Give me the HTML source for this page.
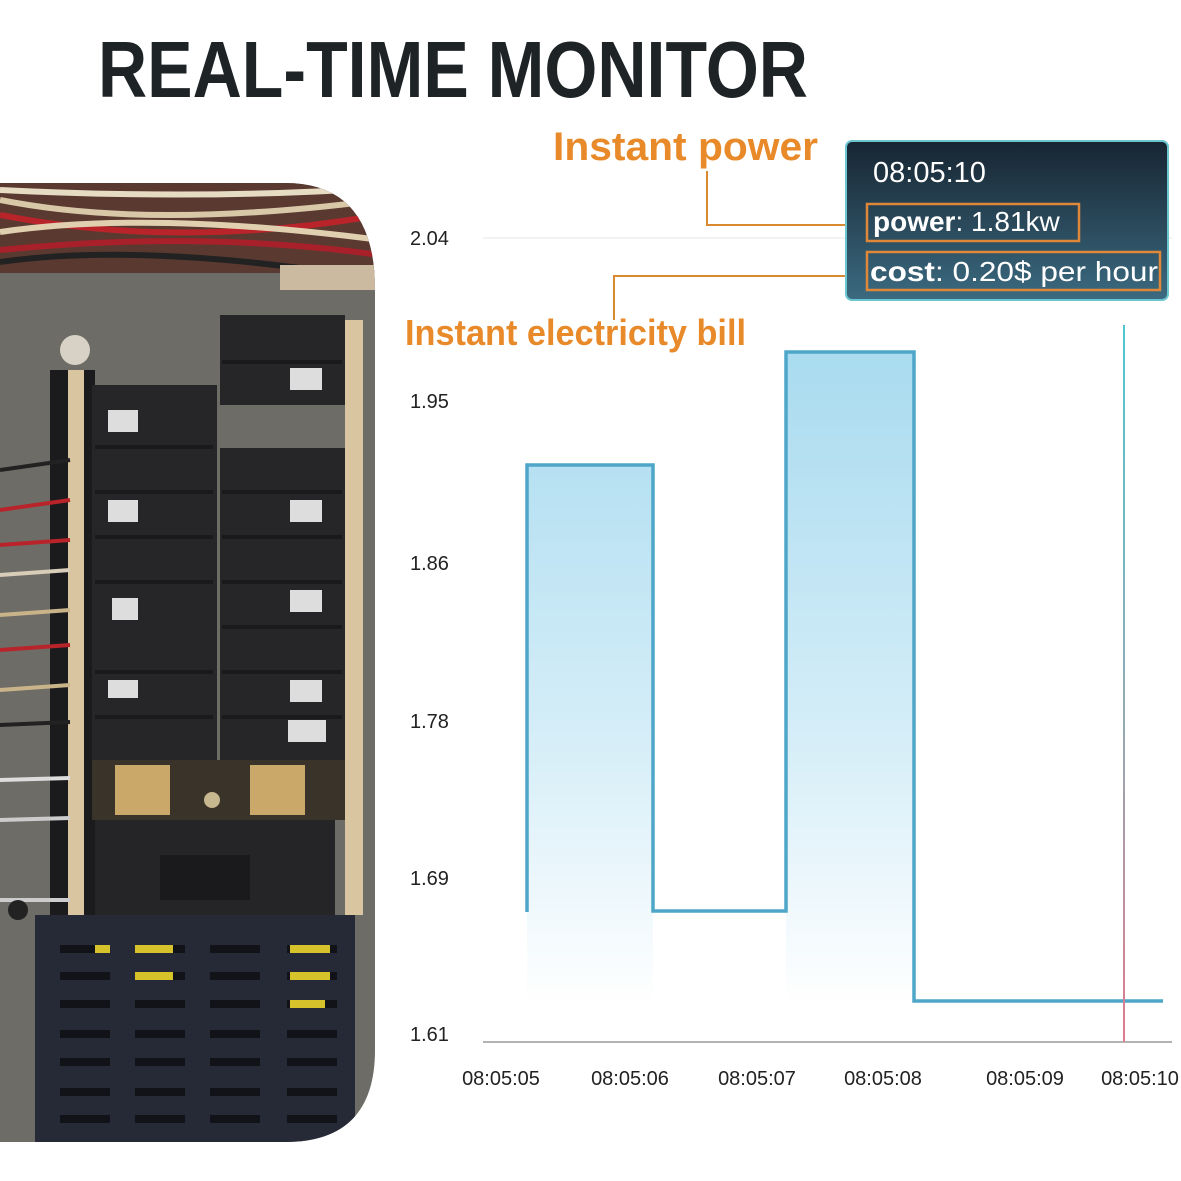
<!DOCTYPE html>
<html><head><meta charset="utf-8"><style>
html,body{margin:0;padding:0;background:#fff;width:1181px;height:1181px;overflow:hidden}
svg{display:block}
</style></head><body>
<svg width="1181" height="1181" viewBox="0 0 1181 1181" xmlns="http://www.w3.org/2000/svg">
<defs>
<linearGradient id="fill" gradientUnits="userSpaceOnUse" x1="0" y1="352" x2="0" y2="1005">
<stop offset="0" stop-color="#a9dbef"/><stop offset="0.6" stop-color="#d6eef8"/><stop offset="1" stop-color="#ffffff"/>
</linearGradient>
<linearGradient id="tip" x1="0" y1="0" x2="0" y2="1">
<stop offset="0" stop-color="#172532"/><stop offset="1" stop-color="#3b6a80"/>
</linearGradient>
<linearGradient id="vline" gradientUnits="userSpaceOnUse" x1="0" y1="325" x2="0" y2="1042">
<stop offset="0" stop-color="#4fc6cf"/><stop offset="0.6" stop-color="#9aa6b0"/><stop offset="1" stop-color="#e07a8e"/>
</linearGradient>
<clipPath id="photo"><path d="M0 183 H285 Q375 183 375 290 V1050 Q375 1142 285 1142 H0 Z"/></clipPath>
</defs>

<text x="98" y="97" font-family="Liberation Sans, sans-serif" font-weight="bold" font-size="80" fill="#1e2326" textLength="710" lengthAdjust="spacingAndGlyphs">REAL-TIME MONITOR</text>

<g clip-path="url(#photo)">
<rect x="0" y="183" width="380" height="960" fill="#6e6c67"/>
<rect x="0" y="183" width="380" height="90" fill="#5a3a30"/>
<g stroke-width="6" fill="none">
<path d="M0 200 Q150 230 380 200" stroke="#d8c8a8"/>
<path d="M0 215 Q180 250 380 215" stroke="#b8242a"/>
<path d="M0 232 Q150 210 380 240" stroke="#e0d0b0"/>
<path d="M0 250 Q200 230 380 255" stroke="#a8202a"/>
<path d="M0 262 Q120 245 300 268" stroke="#222"/>
<path d="M0 190 Q200 200 380 188" stroke="#e6dcc4"/>
</g>
<rect x="280" y="265" width="100" height="25" fill="#cbb9a0"/>
<circle cx="75" cy="350" r="15" fill="#d8d2c6"/>
<rect x="50" y="370" width="45" height="545" fill="#1b1b1d"/>
<rect x="68" y="370" width="16" height="545" fill="#d9c6a0"/>
<rect x="345" y="320" width="18" height="595" fill="#d9c6a0"/>
<g stroke-width="4">
<line x1="0" y1="470" x2="70" y2="460" stroke="#222"/>
<line x1="0" y1="510" x2="70" y2="500" stroke="#b8242a"/>
<line x1="0" y1="545" x2="70" y2="540" stroke="#b8242a"/>
<line x1="0" y1="575" x2="70" y2="570" stroke="#d8cdb8"/>
<line x1="0" y1="615" x2="70" y2="610" stroke="#c9b48a"/>
<line x1="0" y1="650" x2="70" y2="645" stroke="#b8242a"/>
<line x1="0" y1="690" x2="70" y2="685" stroke="#c9b48a"/>
<line x1="0" y1="725" x2="70" y2="722" stroke="#222"/>
<line x1="0" y1="780" x2="70" y2="778" stroke="#ddd"/>
<line x1="0" y1="820" x2="70" y2="818" stroke="#ccc"/>
<line x1="0" y1="900" x2="70" y2="900" stroke="#ccc"/>
</g>
<rect x="92" y="385" width="125" height="375" fill="#262628"/>
<rect x="220" y="315" width="125" height="90" fill="#262628"/>
<rect x="220" y="448" width="125" height="312" fill="#262628"/>
<g fill="#1a1a1c">
<rect x="95" y="445" width="118" height="4"/><rect x="95" y="490" width="118" height="4"/><rect x="95" y="535" width="118" height="4"/><rect x="95" y="580" width="118" height="4"/><rect x="95" y="670" width="118" height="4"/><rect x="95" y="715" width="118" height="4"/>
<rect x="222" y="360" width="120" height="4"/><rect x="222" y="490" width="120" height="4"/><rect x="222" y="535" width="120" height="4"/><rect x="222" y="580" width="120" height="4"/><rect x="222" y="625" width="120" height="4"/><rect x="222" y="670" width="120" height="4"/><rect x="222" y="715" width="120" height="4"/>
</g>
<g fill="#ddd">
<rect x="108" y="410" width="30" height="22"/><rect x="108" y="500" width="30" height="22"/><rect x="112" y="598" width="26" height="22"/><rect x="108" y="680" width="30" height="18"/>
<rect x="290" y="368" width="32" height="22"/><rect x="290" y="500" width="32" height="22"/><rect x="290" y="590" width="32" height="22"/><rect x="290" y="680" width="32" height="22"/><rect x="288" y="720" width="38" height="22"/>
</g>
<rect x="92" y="760" width="253" height="60" fill="#3a332a"/>
<rect x="115" y="765" width="55" height="50" fill="#c9a86a"/>
<rect x="250" y="765" width="55" height="50" fill="#c9a86a"/>
<circle cx="212" cy="800" r="8" fill="#c8b890"/>
<rect x="95" y="820" width="240" height="95" fill="#252527"/>
<rect x="160" y="855" width="90" height="45" fill="#1a1a1c"/>
<circle cx="18" cy="910" r="10" fill="#222"/>
<rect x="35" y="915" width="320" height="230" fill="#262a36"/>
<g fill="#111318">
<rect x="60" y="945" width="50" height="8"/><rect x="135" y="945" width="50" height="8"/><rect x="210" y="945" width="50" height="8"/><rect x="287" y="945" width="50" height="8"/>
<rect x="60" y="972" width="50" height="8"/><rect x="135" y="972" width="50" height="8"/><rect x="210" y="972" width="50" height="8"/><rect x="287" y="972" width="50" height="8"/>
<rect x="60" y="1000" width="50" height="8"/><rect x="135" y="1000" width="50" height="8"/><rect x="210" y="1000" width="50" height="8"/><rect x="287" y="1000" width="50" height="8"/>
<rect x="60" y="1030" width="50" height="8"/><rect x="135" y="1030" width="50" height="8"/><rect x="210" y="1030" width="50" height="8"/><rect x="287" y="1030" width="50" height="8"/>
<rect x="60" y="1058" width="50" height="8"/><rect x="135" y="1058" width="50" height="8"/><rect x="210" y="1058" width="50" height="8"/><rect x="287" y="1058" width="50" height="8"/>
<rect x="60" y="1088" width="50" height="8"/><rect x="135" y="1088" width="50" height="8"/><rect x="210" y="1088" width="50" height="8"/><rect x="287" y="1088" width="50" height="8"/>
<rect x="60" y="1115" width="50" height="8"/><rect x="135" y="1115" width="50" height="8"/><rect x="210" y="1115" width="50" height="8"/><rect x="287" y="1115" width="50" height="8"/>
</g>
<g fill="#d6c22a">
<rect x="135" y="945" width="38" height="8"/><rect x="290" y="945" width="40" height="8"/><rect x="135" y="972" width="38" height="8"/><rect x="290" y="972" width="40" height="8"/><rect x="290" y="1000" width="35" height="8"/><rect x="95" y="945" width="15" height="8"/>
</g>
</g>

<line x1="483" y1="238" x2="1172" y2="238" stroke="#eeeeee" stroke-width="1.5"/>
<line x1="483" y1="1042" x2="1172" y2="1042" stroke="#9a9a9a" stroke-width="1.5"/>
<g font-family="Liberation Sans, sans-serif" font-size="20" fill="#222">
<text x="410" y="245">2.04</text>
<text x="410" y="408">1.95</text>
<text x="410" y="570">1.86</text>
<text x="410" y="728">1.78</text>
<text x="410" y="885">1.69</text>
<text x="410" y="1041">1.61</text>
<g text-anchor="middle">
<text x="501" y="1085">08:05:05</text>
<text x="630" y="1085">08:05:06</text>
<text x="757" y="1085">08:05:07</text>
<text x="883" y="1085">08:05:08</text>
<text x="1025" y="1085">08:05:09</text>
<text x="1140" y="1085">08:05:10</text>
</g>
</g>
<rect x="527" y="465" width="126" height="540" fill="url(#fill)"/>
<rect x="786" y="352" width="128" height="653" fill="url(#fill)"/>
<path d="M527 912 V465 H653 V911 H786 V352 H914 V1001 H1163" fill="none" stroke="#4ea6c8" stroke-width="3.5"/>
<rect x="1123" y="325" width="2" height="717" fill="url(#vline)"/>

<g font-family="Liberation Sans, sans-serif" fill="#e8892a" font-weight="bold">
<text x="553" y="160" font-size="40" textLength="265" lengthAdjust="spacingAndGlyphs">Instant power</text>
<text x="405" y="345" font-size="36" textLength="341" lengthAdjust="spacingAndGlyphs">Instant electricity bill</text>
</g>
<path d="M707 171 V225 H866" fill="none" stroke="#d98a30" stroke-width="2"/>
<path d="M614 320 V276 H866" fill="none" stroke="#d98a30" stroke-width="2"/>

<rect x="846" y="141" width="322" height="159" rx="6" fill="url(#tip)" stroke="#6cc6d0" stroke-width="2"/>
<g font-family="Liberation Sans, sans-serif" fill="#fff">
<text x="873" y="182" font-size="29">08:05:10</text>
<text x="873" y="231" font-size="28"><tspan font-weight="bold">power</tspan>: 1.81kw</text>
<text x="870" y="281" font-size="28" textLength="288" lengthAdjust="spacingAndGlyphs"><tspan font-weight="bold">cost</tspan>: 0.20$ per hour</text>
</g>
<rect x="867" y="204" width="212" height="37" fill="none" stroke="#e0883a" stroke-width="2.5"/>
<rect x="867" y="252" width="293" height="38" fill="none" stroke="#e0883a" stroke-width="2.5"/>
</svg>
</body></html>
